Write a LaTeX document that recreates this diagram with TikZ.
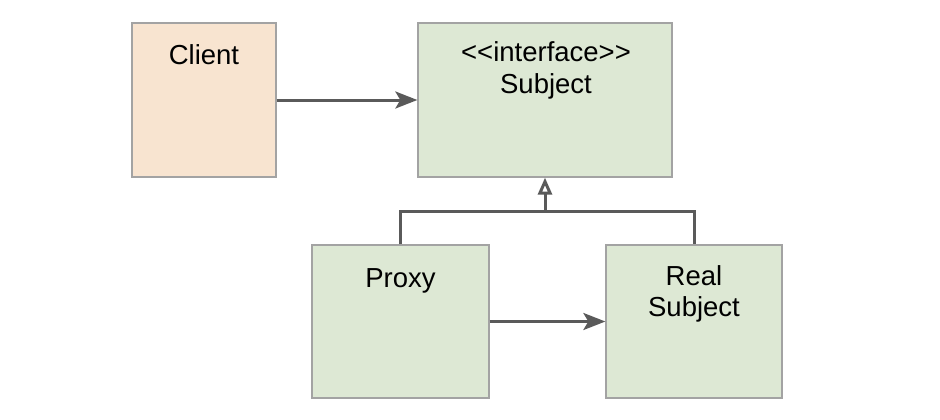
\documentclass[tikz,border=0pt]{standalone}
\usepackage{fontspec}
\setmainfont{Liberation Sans}
\usetikzlibrary{arrows.meta}
\definecolor{peach}{HTML}{F8E4D0}
\definecolor{sage}{HTML}{DDE8D4}
\definecolor{edgegray}{HTML}{A3A3A3}
\definecolor{linegray}{HTML}{5A5A5A}
\tikzset{
  box/.style={draw=edgegray, line width=1.3pt, inner sep=0pt},
  lbl/.style={font=\fontsize{27.5}{31}\selectfont, anchor=base, align=center, inner sep=0pt},
  conn/.style={draw=linegray, line width=3pt},
  arr/.style={conn, -{Stealth[length=22pt, width=17pt, inset=5pt]}},
  inh/.style={conn, -{Triangle[open, length=17pt, width=14pt]}}
}
\begin{document}
\begin{tikzpicture}[x=1pt, y=-1pt]
\useasboundingbox (0,0) rectangle (940,420);
\fill[white] (0,0) rectangle (940,420);
\node[box, fill=peach, minimum width=144pt, minimum height=154pt] (client) at (204,100) {};
\node[box, fill=sage, minimum width=254pt, minimum height=154pt] (subject) at (545,100) {};
\node[box, fill=sage, minimum width=177pt, minimum height=153pt] (proxy) at (400.5,321.5) {};
\node[box, fill=sage, minimum width=176pt, minimum height=153pt] (real) at (694,321.5) {};
\node[lbl] (tclient) at (204,65) {Client};
\node[lbl] (tsubj1) at (546,62) {<\kern0pt<interface>\kern0pt>};
\node[lbl] (tsubj2) at (546,93) {Subject};
\node[lbl] (tproxy) at (400.5,287) {Proxy};
\node[lbl] (treal1) at (694,285) {Real};
\node[lbl] (treal2) at (694,316) {Subject};
\draw[arr] (client.east) -- (subject.west);
\draw[arr] (proxy.east) -- (real.west);
\coordinate (j) at (subject.south |- 0,211);
\draw[conn, line cap=butt] (proxy.north) |- (j) -| (real.north);
\draw[inh] (j) -- (subject.south);
\end{tikzpicture}
\end{document}
